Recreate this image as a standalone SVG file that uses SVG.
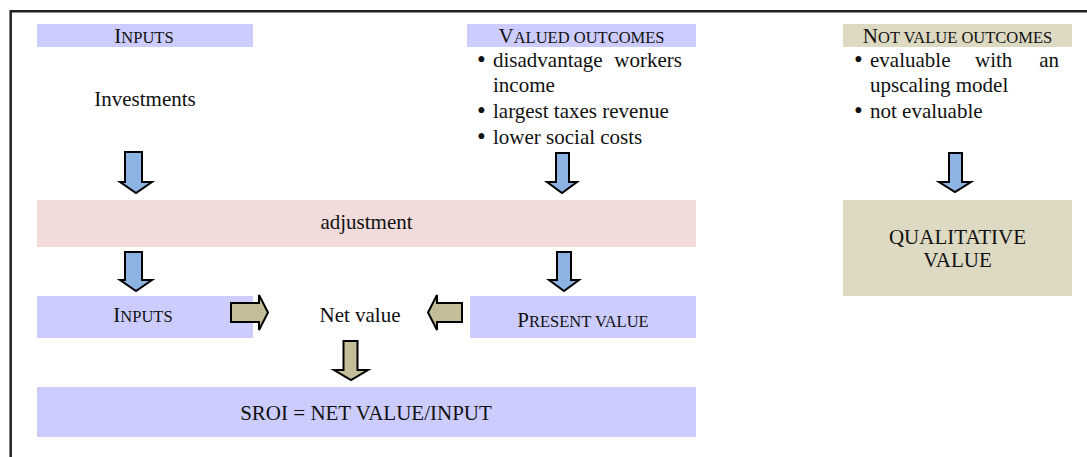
<svg xmlns="http://www.w3.org/2000/svg" width="1087" height="457" viewBox="0 0 1087 457">
<defs>
<style>
.t{font-family:"Liberation Serif","Times New Roman",serif;font-size:21px;fill:#111;}
.c{text-anchor:middle;}
.sc{font-size:16.5px;}
.b{font-size:25px;}
.lav{fill:#ccccff;}
.pink{fill:#f2dcdb;}
.kh{fill:#ddd9c3;}
.ba{fill:#8db3e2;stroke:#000;stroke-width:2;stroke-linejoin:miter;}
.ka{fill:#c4bd97;stroke:#000;stroke-width:2;stroke-linejoin:miter;}
</style>
</defs>
<rect width="1087" height="457" fill="#fff"/>
<path d="M10.7 457 V11.3 H1090" fill="none" stroke="#222" stroke-width="2.5"/>

<g id="inputs-header">
<rect class="lav" x="37" y="24" width="216" height="23"/>
<text class="t c" x="144" y="43">I<tspan class="sc">NPUTS</tspan></text>
</g>
<g id="investments">
<text class="t c" x="145" y="106">Investments</text>
</g>
<g id="valued-outcomes">
<rect class="lav" x="467" y="24" width="229" height="23"/>
<text class="t c" x="581.5" y="43">V<tspan class="sc">ALUED OUTCOMES</tspan></text>
<text class="t b" x="477" y="68">•</text>
<text class="t" x="493" y="67">disadvantage</text>
<text class="t" x="682" y="67" text-anchor="end">workers</text>
<text class="t" x="493" y="92">income</text>
<text class="t b" x="477" y="118.5">•</text>
<text class="t" x="493" y="117.5">largest taxes revenue</text>
<text class="t b" x="477" y="145">•</text>
<text class="t" x="493" y="144">lower social costs</text>
</g>
<g id="not-value-outcomes">
<rect class="kh" x="843" y="24" width="229" height="23"/>
<text class="t c" x="957.5" y="43">N<tspan class="sc">OT VALUE OUTCOMES</tspan></text>
<text class="t b" x="854" y="68">•</text>
<text class="t" x="870" y="67">evaluable</text>
<text class="t" x="975" y="67">with</text>
<text class="t" x="1059" y="67" text-anchor="end">an</text>
<text class="t" x="870" y="92">upscaling model</text>
<text class="t b" x="854" y="119">•</text>
<text class="t" x="870" y="118">not evaluable</text>
</g>
<g id="adjustment">
<rect class="pink" x="37" y="200" width="659" height="47"/>
<text class="t c" x="366.5" y="229">adjustment</text>
</g>
<g id="qualitative-value">
<rect class="kh" x="843" y="200" width="229" height="96"/>
<text class="t c" x="957.5" y="244">QUALITATIVE</text>
<text class="t c" x="957.5" y="267">VALUE</text>
</g>
<g id="inputs-box">
<rect class="lav" x="37" y="296" width="216" height="42"/>
<text class="t c" x="143" y="322">I<tspan class="sc">NPUTS</tspan></text>
</g>
<g id="net-value">
<text class="t c" x="360" y="322">Net value</text>
</g>
<g id="present-value">
<rect class="lav" x="470" y="296" width="226" height="42"/>
<text class="t c" x="583" y="327">P<tspan class="sc">RESENT VALUE</tspan></text>
</g>
<g id="sroi">
<rect class="lav" x="37" y="387" width="659" height="50"/>
<text class="t c" x="366" y="420">SROI = NET VALUE/INPUT</text>
</g>

<g id="connectors">
<path class="ba" d="M125 152 H142 V182 H152 L136 193 L120 182 H125 Z"/>
<path class="ba" d="M125 252 H142 V280 H152 L136 291 L120 280 H125 Z"/>
<path class="ba" d="M556 153 H569 V182 H577 L562 193 L547 182 H556 Z"/>
<path class="ba" d="M557 252 H571 V280 H579 L564 291 L549 280 H557 Z"/>
<path class="ba" d="M949 153 H962 V182 H971 L955 192 L939 182 H949 Z"/>
<path class="ka" d="M231 303 H259 V295 L268 312.5 L259 330 V322 H231 Z"/>
<path class="ka" d="M462 303 H437 V295 L428 312.5 L437 330 V322 H462 Z"/>
<path class="ka" d="M343.5 341 H357.5 V370 H368 L351 380 L334 370 H343.5 Z"/>
</g>
</svg>
